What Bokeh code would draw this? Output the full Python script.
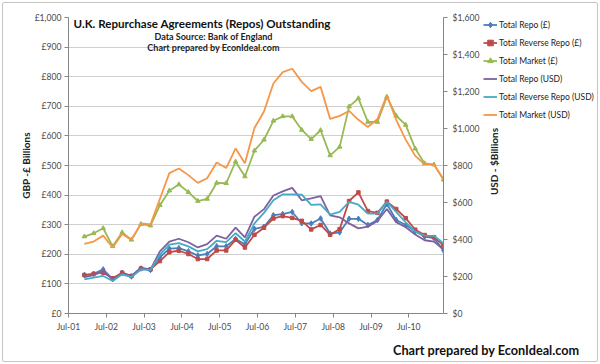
import math
import pandas as pd
from bokeh.plotting import figure
from bokeh.layouts import row, column
from bokeh.models import (Range1d, LinearAxis, FixedTicker, DatetimeTickFormatter,
                          Legend, LegendItem, Label)
from bokeh.embed import file_html
from bokeh.resources import INLINE

# ---------------- data ----------------
dates = ["2001-12", "2002-03", "2002-06", "2002-09", "2002-12", "2003-03", "2003-06",
         "2003-09", "2003-12", "2004-03", "2004-06", "2004-09", "2004-12", "2005-03",
         "2005-06", "2005-09", "2005-12", "2006-03", "2006-06", "2006-09", "2006-12",
         "2007-03", "2007-06", "2007-09", "2007-12", "2008-03", "2008-06", "2008-09",
         "2008-12", "2009-03", "2009-06", "2009-09", "2009-12", "2010-03", "2010-06",
         "2010-09", "2010-12", "2011-03", "2011-06"]

repo_gbp = [130, 134, 149, 116, 137, 125, 152, 147, 190, 219, 221, 210, 196, 201, 227,
            227, 252, 234, 286, 293, 332, 336, 343, 305, 304, 321, 270, 274, 320, 320,
            299, 316, 370, 316, 299, 277, 260, 255, 213]
rev_repo_gbp = [130, 134, 138, 119, 138, 127, 152, 149, 177, 207, 212, 201, 184, 184, 213,
                213, 249, 223, 266, 290, 321, 329, 323, 313, 284, 299, 266, 285, 380, 409,
                346, 340, 378, 353, 322, 283, 265, 258, 230]
market_gbp = [260, 271, 288, 227, 274, 249, 302, 297, 366, 415, 436, 410, 380, 387, 441,
              440, 513, 463, 550, 587, 651, 666, 666, 620, 589, 619, 534, 563, 699, 727,
              647, 647, 732, 668, 637, 557, 507, 503, 452]
repo_usd = [197, 208, 229, 185, 215, 203, 247, 238, 336, 389, 404, 385, 357, 375, 421,
            404, 464, 411, 523, 564, 638, 660, 679, 612, 622, 635, 530, 520, 487, 460,
            469, 500, 565, 494, 466, 427, 396, 389, 345]
rev_repo_usd = [185, 194, 203, 176, 212, 197, 238, 235, 318, 372, 380, 363, 336, 348, 393,
                386, 434, 389, 487, 544, 612, 644, 644, 642, 587, 590, 535, 549, 603, 588,
                540, 540, 603, 549, 492, 443, 421, 420, 380]
market_usd = [377, 389, 421, 357, 430, 398, 487, 482, 620, 759, 784, 748, 706, 731, 816,
              786, 892, 812, 1003, 1092, 1243, 1305, 1323, 1252, 1202, 1225, 1052, 1068,
              1095, 1047, 1008, 1051, 1180, 1047, 940, 852, 807, 805, 727]

x_tick_dates = ["2001-07-01", "2002-07-01", "2003-07-01", "2004-07-01", "2005-07-01",
                "2006-07-01", "2007-07-01", "2008-07-01", "2009-07-01", "2010-07-01"]
x_tick_labels = ["Jul-01", "Jul-02", "Jul-03", "Jul-04", "Jul-05",
                 "Jul-06", "Jul-07", "Jul-08", "Jul-09", "Jul-10"]
gbp_ticks = [0, 100, 200, 300, 400, 500, 600, 700, 800, 900, 1000]
gbp_labels = ["£0", "£100", "£200", "£300", "£400", "£500", "£600", "£700", "£800",
              "£900", "£1,000"]
usd_ticks = [0, 200, 400, 600, 800, 1000, 1200, 1400, 1600]
usd_labels = ["$0", "$200", "$400", "$600", "$800", "$1,000", "$1,200", "$1,400", "$1,600"]

series_names = ["Total Repo (£)", "Total Reverse Repo (£)", "Total Market (£)",
                "Total Repo (USD)", "Total Reverse Repo (USD)", "Total Market (USD)"]

# ---------------- style ----------------
FONT = "Lato"
AX = "#868686"
LBL = "#4a4a4a"
TICK_FS = "8.6px"
colors = ["#4a7ebb", "#be4b48", "#98b954", "#7d60a0", "#46aac5", "#f79646"]
markers = ["diamond", "square", "triangle", None, None, None]
msize = [5.5, 3.5, 4.5, 0, 0, 0]
ranges = ["default", "default", "default", "usd", "usd", "usd"]
values = [repo_gbp, rev_repo_gbp, market_gbp, repo_usd, rev_repo_usd, market_usd]

# ---------------- main chart ----------------
x = pd.to_datetime(dates, format="%Y-%m")
x_ticks_ms = [pd.Timestamp(d).value // 10**6 for d in x_tick_dates]

p = figure(width=482, height=338, output_backend="svg", toolbar_location=None,
           x_axis_type="datetime",
           x_range=Range1d(pd.Timestamp("2001-07-01"), x[-1]),
           y_range=Range1d(0, 1000),
           min_border_left=68, min_border_right=37, min_border_top=13,
           min_border_bottom=25)
p.extra_y_ranges = {"usd": Range1d(0, 1600)}
p.outline_line_color = None
p.border_fill_alpha = 0

xa = p.xaxis[0]
xa.ticker = FixedTicker(ticks=x_ticks_ms)
xa.formatter = DatetimeTickFormatter(years="%b-%y", months="%b-%y", days="%b-%y")
xa.major_label_overrides = {t: l for t, l in zip(x_ticks_ms, x_tick_labels)}

ya = p.yaxis[0]
ya.ticker = FixedTicker(ticks=gbp_ticks)
ya.major_label_overrides = {t: l for t, l in zip(gbp_ticks, gbp_labels)}
ya.axis_label = "GBP -£ Billions"
ya.axis_label_text_font = FONT
ya.axis_label_text_font_style = "bold"
ya.axis_label_text_font_size = "10px"
ya.axis_label_text_color = "#222222"
ya.axis_label_standoff = 0

ra = LinearAxis(y_range_name="usd", ticker=FixedTicker(ticks=usd_ticks))
ra.major_label_overrides = {t: l for t, l in zip(usd_ticks, usd_labels)}
p.add_layout(ra, "right")

for ax, standoff in ((xa, 4), (ya, 3), (ra, 5)):
    ax.minor_tick_line_color = None
    ax.axis_line_color = AX
    ax.major_tick_line_color = AX
    ax.major_tick_in = 0
    ax.major_tick_out = 4
    ax.major_label_text_font = FONT
    ax.major_label_text_font_size = TICK_FS
    ax.major_label_text_color = LBL
    ax.major_label_standoff = standoff

p.xgrid.grid_line_color = None
p.ygrid.ticker = FixedTicker(ticks=gbp_ticks)
p.ygrid.grid_line_color = "#cfcfcf"
p.ygrid.grid_line_width = 1

for col, vals, mk, ms, rng in zip(colors, values, markers, msize, ranges):
    p.line(x, vals, line_color=col, line_width=1.8, y_range_name=rng)
    if mk:
        p.scatter(x, vals, marker=mk, size=ms, fill_color=col, line_color=col,
                  y_range_name=rng)

p.add_layout(Label(x=5, y=290, x_units="screen", y_units="screen",
                   text="U.K. Repurchase Agreements (Repos) Outstanding",
                   text_font=FONT, text_font_style="bold", text_font_size="11.6px",
                   text_baseline="middle", text_align="left", text_color="#111111"))
p.add_layout(Label(x=145, y=277, x_units="screen", y_units="screen",
                   text="Data Source: Bank of England",
                   text_font=FONT, text_font_style="bold", text_font_size="9px",
                   text_baseline="middle", text_align="center", text_color="#222222"))
p.add_layout(Label(x=145, y=266, x_units="screen", y_units="screen",
                   text="Chart prepared by EconIdeal.com",
                   text_font=FONT, text_font_style="bold", text_font_size="9px",
                   text_baseline="middle", text_align="center", text_color="#222222"))

# ---------------- legend panel (right) ----------------
# the series are drawn again here far outside this panel's ranges, only to
# give the legend its glyphs
lg = figure(width=118, height=338, output_backend="svg", toolbar_location=None,
            x_axis_location=None, y_axis_location=None,
            x_range=Range1d(0, 1), y_range=Range1d(-5000, -4000),
            min_border_left=1, min_border_right=0, min_border_top=17,
            min_border_bottom=0)
lg.outline_line_color = None
lg.grid.visible = False
lg.border_fill_alpha = 0
lg.background_fill_alpha = 0

items = []
for name, col, vals, mk, ms in zip(series_names, colors, values, markers, msize):
    rs = [lg.line(x, vals, line_color=col, line_width=1.8)]
    if mk:
        rs.append(lg.scatter(x, vals, marker=mk, size=ms - 1, fill_color=col,
                             line_color=col))
    items.append(LegendItem(label=name, renderers=rs))

legend = Legend(items=items, location="top_left", padding=0, margin=0,
                spacing=3, label_height=15, glyph_height=15, glyph_width=14,
                label_standoff=2, border_line_color=None, background_fill_alpha=0,
                label_text_font=FONT, label_text_font_size="8.5px",
                label_text_color="#222222")
lg.add_layout(legend, "center")

lg.add_layout(Label(x=11, y=161, x_units="canvas", y_units="canvas",
                    text="USD - $Billions", angle=math.pi / 2,
                    text_font=FONT, text_font_style="bold", text_font_size="10px",
                    text_baseline="middle", text_align="center", text_color="#222222"))

# ---------------- footer ----------------
ft = figure(width=600, height=26, output_backend="svg", toolbar_location=None,
            x_axis_location=None, y_axis_location=None,
            x_range=Range1d(0, 1), y_range=Range1d(0, 1),
            min_border_left=0, min_border_right=0, min_border_top=0, min_border_bottom=0)
ft.outline_line_color = None
ft.grid.visible = False
ft.border_fill_alpha = 0
ft.background_fill_alpha = 0
ft.add_layout(Label(x=579, y=15, x_units="screen", y_units="screen",
                    text="Chart prepared by EconIdeal.com",
                    text_font=FONT, text_font_style="bold", text_font_size="12.7px",
                    text_baseline="middle", text_align="right", text_color="#111111"))

layout = column(row(p, lg, spacing=0), ft, spacing=0)
layout.styles = {"outline": "1px solid #c4c4c4", "outline-offset": "-3px",
                 "border-radius": "4px", "background-color": "white"}
open("out.html", "w").write(file_html(layout, INLINE))
